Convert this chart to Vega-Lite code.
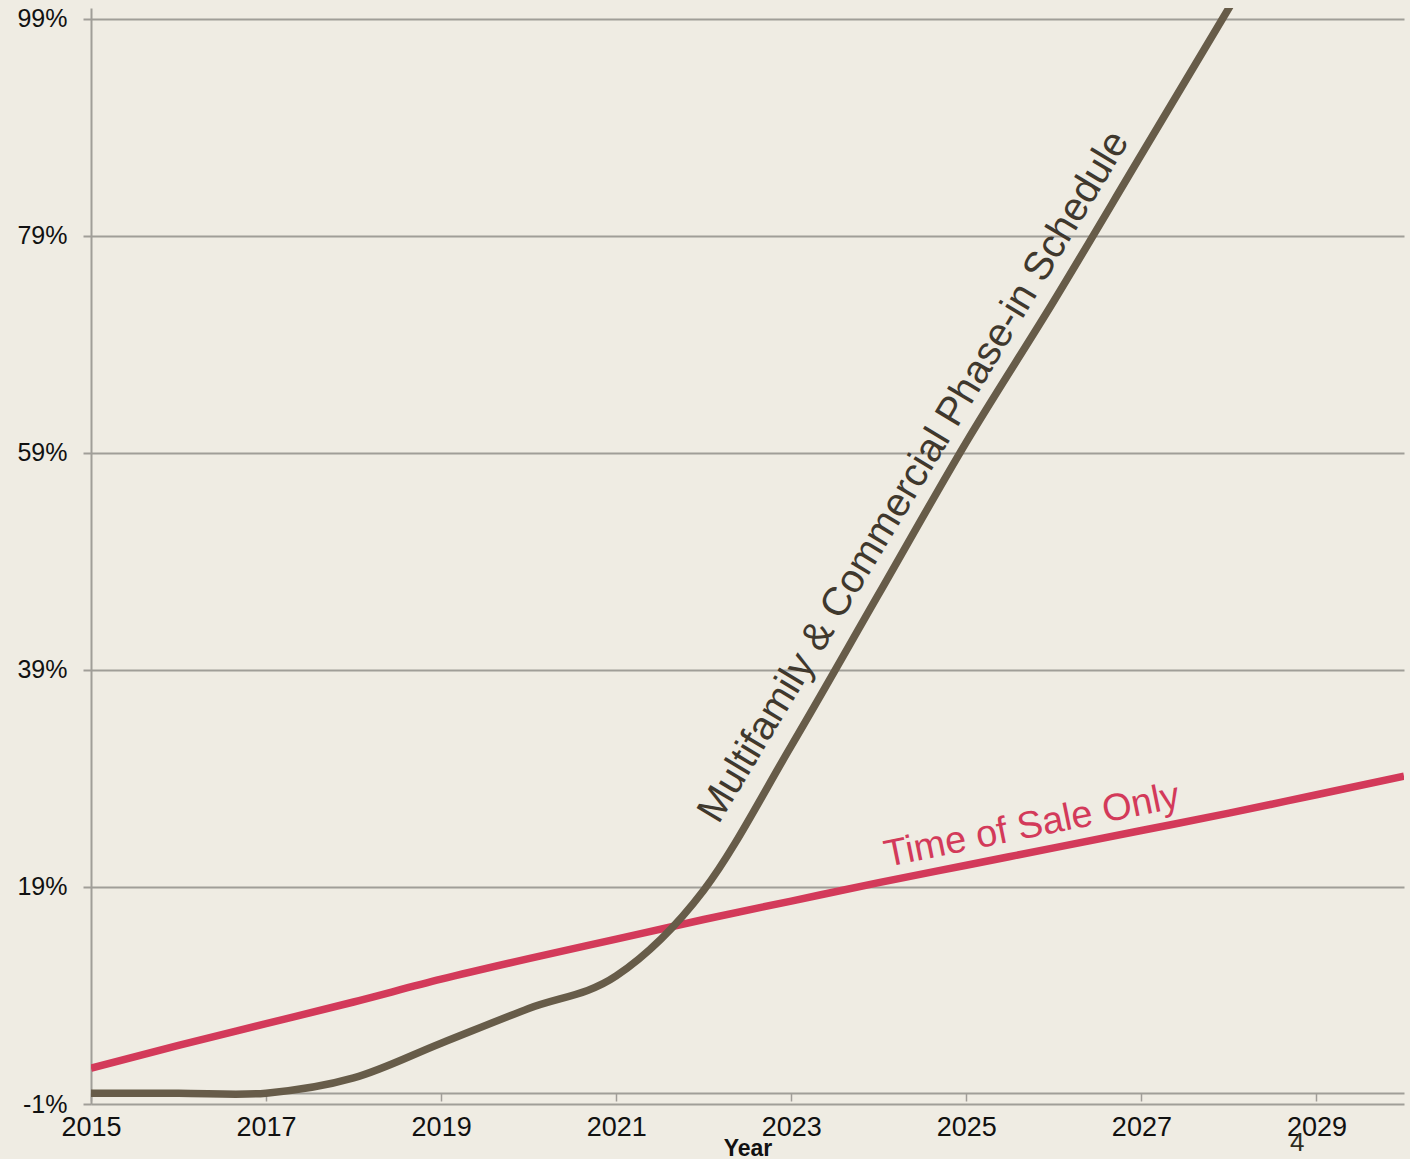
{
  "$schema": "https://vega.github.io/schema/vega-lite/v6.json",
  "width": 1313,
  "height": 1096,
  "autosize": {"type": "none"},
  "padding": {"left": 91, "top": 8, "right": 6, "bottom": 55},
  "background": "#efece3",
  "config": {"view": {"stroke": null}, "font": "Liberation Sans"},
  "datasets": {
    "sale": [
      {"series": "Time of Sale Only", "year": 2015, "value": 2.3},
      {"series": "Time of Sale Only", "year": 2016, "value": 4.4},
      {"series": "Time of Sale Only", "year": 2017, "value": 6.4},
      {"series": "Time of Sale Only", "year": 2018, "value": 8.4},
      {"series": "Time of Sale Only", "year": 2019, "value": 10.5},
      {"series": "Time of Sale Only", "year": 2020, "value": 12.4},
      {"series": "Time of Sale Only", "year": 2021, "value": 14.2},
      {"series": "Time of Sale Only", "year": 2022, "value": 16.0},
      {"series": "Time of Sale Only", "year": 2023, "value": 17.7},
      {"series": "Time of Sale Only", "year": 2024, "value": 19.4},
      {"series": "Time of Sale Only", "year": 2025, "value": 21.0},
      {"series": "Time of Sale Only", "year": 2026, "value": 22.6},
      {"series": "Time of Sale Only", "year": 2027, "value": 24.2},
      {"series": "Time of Sale Only", "year": 2028, "value": 25.8},
      {"series": "Time of Sale Only", "year": 2029, "value": 27.5},
      {"series": "Time of Sale Only", "year": 2030, "value": 29.2}
    ],
    "phase": [
      {"series": "Multifamily & Commercial Phase-in Schedule", "year": 2015, "value": 0},
      {"series": "Multifamily & Commercial Phase-in Schedule", "year": 2016, "value": 0},
      {"series": "Multifamily & Commercial Phase-in Schedule", "year": 2017, "value": 0},
      {"series": "Multifamily & Commercial Phase-in Schedule", "year": 2018, "value": 1.4},
      {"series": "Multifamily & Commercial Phase-in Schedule", "year": 2019, "value": 4.6},
      {"series": "Multifamily & Commercial Phase-in Schedule", "year": 2020, "value": 7.8},
      {"series": "Multifamily & Commercial Phase-in Schedule", "year": 2021, "value": 10.8},
      {"series": "Multifamily & Commercial Phase-in Schedule", "year": 2022, "value": 18.7},
      {"series": "Multifamily & Commercial Phase-in Schedule", "year": 2023, "value": 32},
      {"series": "Multifamily & Commercial Phase-in Schedule", "year": 2024, "value": 46},
      {"series": "Multifamily & Commercial Phase-in Schedule", "year": 2025, "value": 60},
      {"series": "Multifamily & Commercial Phase-in Schedule", "year": 2026, "value": 73},
      {"series": "Multifamily & Commercial Phase-in Schedule", "year": 2027, "value": 86.5},
      {"series": "Multifamily & Commercial Phase-in Schedule", "year": 2028, "value": 100},
      {"series": "Multifamily & Commercial Phase-in Schedule", "year": 2029, "value": 113.5},
      {"series": "Multifamily & Commercial Phase-in Schedule", "year": 2030, "value": 127}
    ]
  },
  "encoding": {
    "x": {
      "field": "year", "type": "quantitative",
      "scale": {"domain": [2015, 2030], "nice": false, "zero": false},
      "axis": {
        "values": [2015, 2017, 2019, 2021, 2023, 2025, 2027, 2029],
        "format": "d", "title": "Year", "offset": -11, "tickSize": 8, "labelPadding": 13,
        "labelFontSize": 27, "labelColor": "#111111", "labelFlush": false,
        "domainColor": "#a09e98", "domainWidth": 2, "tickColor": "#a09e98", "tickWidth": 1.5,
        "grid": false, "titleFontSize": 23, "titleFontWeight": "bold", "titleColor": "#111111",
        "titleBaseline": "alphabetic", "titleY": 62.5
      }
    },
    "y": {
      "field": "value", "type": "quantitative",
      "scale": {"domain": [-1, 100], "nice": false, "zero": false},
      "axis": {
        "values": [-1, 19, 39, 59, 79, 99], "labelExpr": "datum.value + '%'", "title": null,
        "tickSize": 8, "labelPadding": 16, "labelFontSize": 25, "labelColor": "#111111",
        "domainColor": "#a09e98", "domainWidth": 2, "gridColor": "#a09e98", "gridWidth": 2,
        "tickColor": "#a09e98", "tickWidth": 2
      }
    }
  },
  "layer": [
    {
      "data": {"name": "sale"},
      "mark": {"type": "line", "interpolate": "monotone", "strokeWidth": 7.5, "clip": true, "color": "#d33a5a"}
    },
    {
      "data": {"name": "phase"},
      "mark": {"type": "line", "interpolate": "cardinal", "tension": 0, "strokeWidth": 7.5, "clip": true, "color": "#675c49"}
    },
    {
      "data": {"values": [{"label": "Multifamily & Commercial Phase-in Schedule", "year": 2024.4, "value": 56.8}]},
      "mark": {"type": "text", "angle": -59, "fontSize": 40, "color": "#3f382d", "align": "center", "baseline": "middle"},
      "encoding": {"text": {"field": "label"}}
    },
    {
      "data": {"values": [{"label": "Time of Sale Only", "year": 2025.75, "value": 24.6}]},
      "mark": {"type": "text", "angle": -11.5, "fontSize": 38, "color": "#d33a5a", "align": "center", "baseline": "middle"},
      "encoding": {"text": {"field": "label"}}
    },
    {
      "data": {"values": [{"label": "4", "year": 2028.78, "value": -4.55}]},
      "mark": {"type": "text", "fontSize": 26, "color": "#2e2e22", "align": "center", "baseline": "middle"},
      "encoding": {"text": {"field": "label"}}
    }
  ]
}
